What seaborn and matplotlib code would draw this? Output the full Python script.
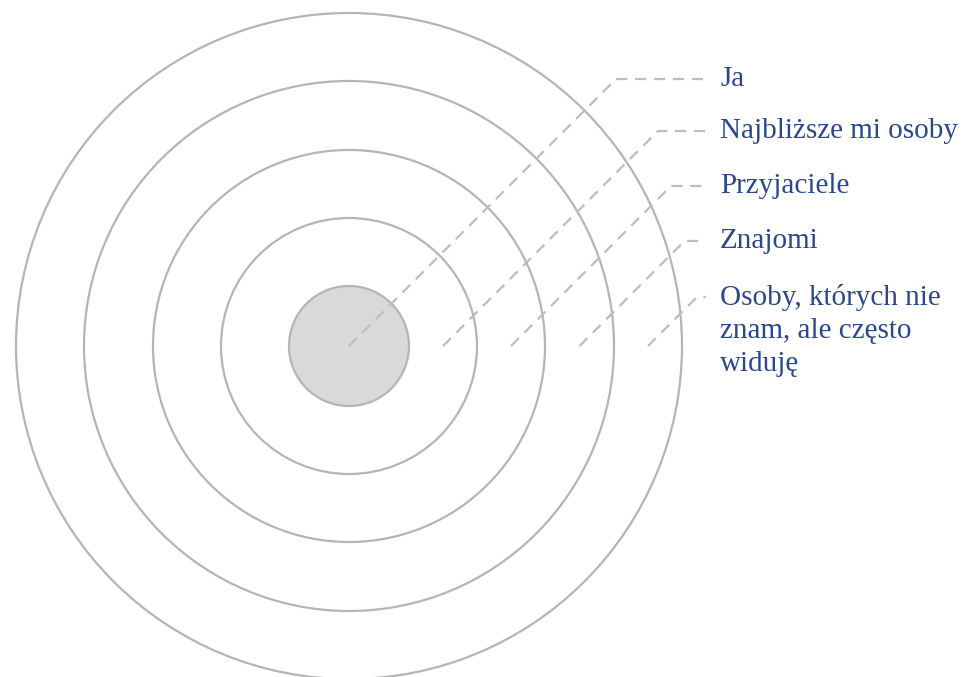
import seaborn as sns
import matplotlib.pyplot as plt
import matplotlib.patches as mpatches
import pandas as pd

# Ring radii (px), from the inner "Ja" disc outwards
radii = [60, 128, 196, 265, 333]
center = (349, 346)

# Labels and the height of their leader lines
labels = ["Ja", "Najbliższe mi osoby", "Przyjaciele", "Znajomi",
          "Osoby, których nie\nznam, ale często\nwiduję"]
label_y = [79, 131, 186, 241, 297]
label_x = 720

ring_color = "#b5b5b5"
dash_color = "#bdbdbd"
text_color = "#2b478d"

sns.set_theme(style="white")
plt.rcParams['font.family'] = ['Liberation Serif', 'DejaVu Serif']

fig = plt.figure(figsize=(9.73, 6.77), dpi=100)
ax = fig.add_axes([0, 0, 1, 1])
ax.set_xlim(0, 973)
ax.set_ylim(677, 0)
ax.axis('off')

# concentric circles, largest first
for r in radii[::-1]:
    fill = "#d9d9d9" if r == radii[0] else "none"
    ax.add_patch(mpatches.Circle(center, r, facecolor=fill,
                                 edgecolor=ring_color, linewidth=1.6, zorder=1))

# leader lines: start in the middle of each band, go up at 45 degrees, then across
rows = []
for i, y in enumerate(label_y):
    if i == 0:
        sx = center[0]
    else:
        sx = center[0] + (radii[i - 1] + radii[i]) / 2
    bx = sx + (center[1] - y)
    for px, py in [(sx, center[1]), (bx, y), (label_x - 14, y)]:
        rows.append({'ring': i, 'x': px, 'y': py})
lines = pd.DataFrame(rows)

for i, grp in lines.groupby('ring'):
    sns.lineplot(data=grp, x='x', y='y', sort=False, ax=ax, color=dash_color,
                 linewidth=1.6, linestyle=(0, (5, 3.5)), zorder=2)
ax.set_xlabel('')
ax.set_ylabel('')

# labels (multi-line one hangs from its first line)
for lab, y in zip(labels, label_y):
    if '\n' in lab:
        ax.text(label_x, y - 13, lab, fontsize=21, color=text_color,
                ha='left', va='top', linespacing=1.34)
    else:
        ax.text(label_x, y, lab, fontsize=21, color=text_color,
                ha='left', va='center')

fig.savefig('out.png', dpi=100)
